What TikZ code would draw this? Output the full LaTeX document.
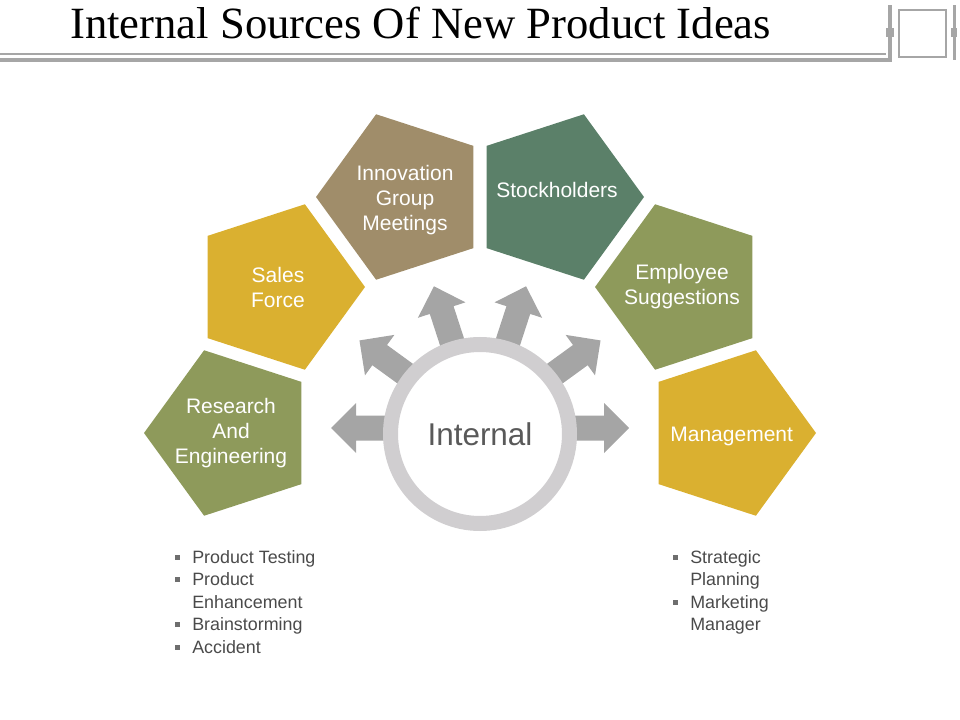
\documentclass[tikz,border=0pt]{standalone}
\usepackage{fontspec}
\setmainfont{Liberation Sans}
\newfontfamily\titlefont{Liberation Serif}
\usetikzlibrary{shapes.geometric}

\definecolor{ideaolive}{HTML}{8E9A5B}
\definecolor{ideagold}{HTML}{DAB030}
\definecolor{ideatan}{HTML}{A08D6A}
\definecolor{ideapine}{HTML}{5B8069}
\definecolor{arrowgray}{HTML}{A5A5A5}
\definecolor{ringgray}{HTML}{D0CED0}
\definecolor{linegray}{HTML}{A6A6A6}
\definecolor{textgray}{HTML}{595959}
\definecolor{listgray}{HTML}{4A4A4A}
\definecolor{bulletgray}{HTML}{6E6E6E}

\newcommand{\bsq}{\makebox[12.75pt][l]{\textcolor{bulletgray}{\rule[0.2em]{3.8pt}{3.8pt}}}}

\begin{document}
\begin{tikzpicture}[x=0.75pt,y=-0.75pt,
  pent/.style={regular polygon,regular polygon sides=5,minimum size=130.5pt,inner sep=0pt},
  pleft/.style={pent,shape border rotate=90},
  pright/.style={pent,shape border rotate=-90},
  ptext/.style={inner sep=0pt,text=white,align=center,font=\fontsize{15.75}{18.75}\selectfont},
  blockarrow/.style={fill=arrowgray},
  bullets/.style={anchor=north west,inner sep=0pt,align=left,text=listgray,
    font=\fontsize{13.4}{16.9}\selectfont}]
\useasboundingbox (0,0) rectangle (960,720);

% Title bar
\node[anchor=base west,inner sep=0pt,font=\titlefont\fontsize{33.5}{40}\selectfont] (title) at (70,39) {Internal Sources Of New Product Ideas};
\fill[linegray] (0,53.5) rectangle (886,55);
\fill[linegray] (0,58) rectangle (892,62);
\fill[linegray] (888,5) rectangle (892,62);
\fill[linegray] (886,28) rectangle (894,37);
\draw[linegray,line width=1.5pt] (899,10) rectangle (946,57);
\fill[linegray] (953,5) rectangle (956,60);
\fill[linegray] (951,28) rectangle (957,37);

% Arrows out of the hub
\coordinate (hub) at (480,428);
\foreach \a in {0,36,...,180}
  \fill[blockarrow,shift={(hub)},rotate=\a] (80,-12.5) -- (124,-12.5) -- (124,-25) -- (149,0) -- (124,25) -- (124,12.5) -- (80,12.5) -- cycle;

% Centre ring
\node[circle,draw=ringgray,line width=11.25pt,fill=white,minimum size=134.25pt,inner sep=0pt,
  text=textgray,font=\fontsize{23.6}{28}\selectfont] (core) at (480,434) {Internal};

% Sources
\node[pleft,fill=ideaolive,label={[ptext]center:{Research\\And\\Engineering}}] (research) at (231,433) {};
\node[pright,fill=ideagold,label={[ptext]center:{Sales\\Force}}] (sales) at (278,287) {};
\node[pleft,fill=ideatan,label={[ptext,yshift=-2.5pt,xshift=1.5pt]center:{Innovation\\Group\\Meetings}}] (innovation) at (403,197) {};
\node[pright,fill=ideapine,label={[ptext,yshift=5pt]center:Stockholders}] (stock) at (557,197) {};
\node[pleft,fill=ideaolive,label={[ptext,yshift=0.5pt]center:{Employee\\Suggestions}}] (employee) at (682,287) {};
\node[pright,fill=ideagold,label={[ptext,yshift=-2.5pt,xshift=2pt]center:Management}] (management) at (729,433) {};

% Bullet lists
\node[bullets] (leftlist) at (175,550) {\bsq Product Testing\\ \bsq Product\\ \hspace*{12.75pt}Enhancement\\ \bsq Brainstorming\\ \bsq Accident};
\node[bullets] (rightlist) at (673,550) {\bsq Strategic\\ \hspace*{12.75pt}Planning\\ \bsq Marketing\\ \hspace*{12.75pt}Manager};
\end{tikzpicture}
\end{document}
